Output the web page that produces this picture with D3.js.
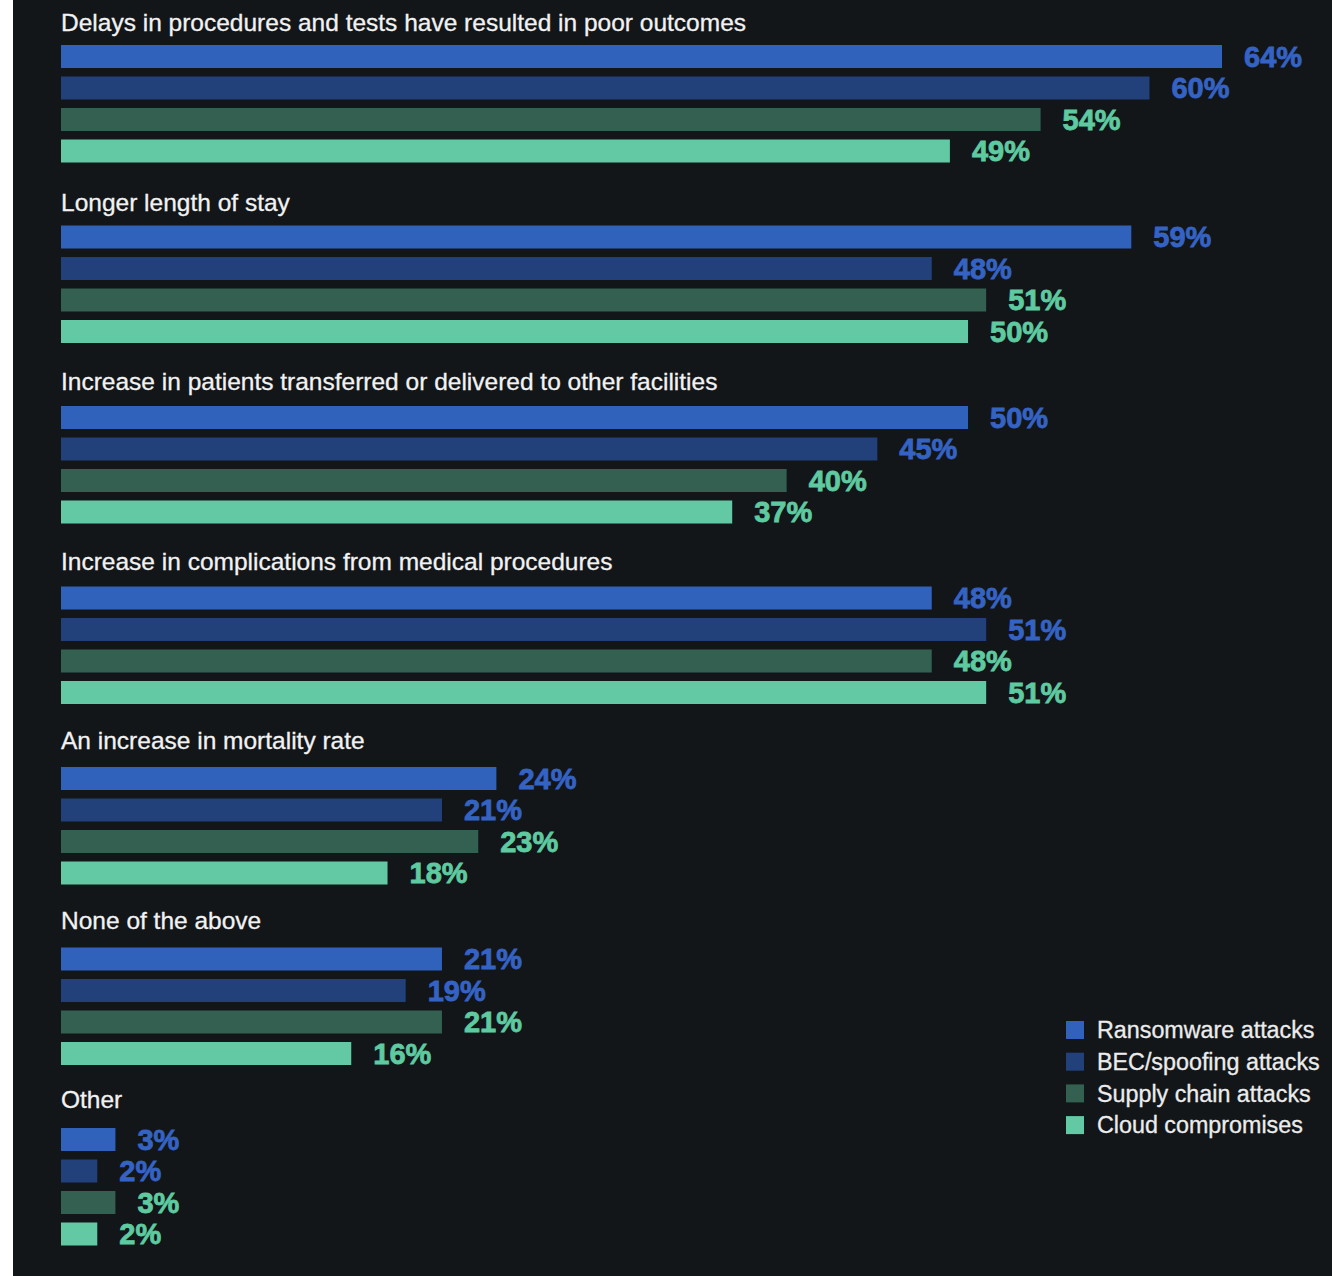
<!DOCTYPE html>
<html>
<head>
<meta charset="utf-8">
<script src="https://cdn.jsdelivr.net/npm/d3@7"></script>
<style>
  html, body { margin: 0; padding: 0; background: #ffffff; }
  svg { display: block; }
</style>
</head>
<body>
<script>
const categories = [
  "Delays in procedures and tests have resulted in poor outcomes",
  "Longer length of stay",
  "Increase in patients transferred or delivered to other facilities",
  "Increase in complications from medical procedures",
  "An increase in mortality rate",
  "None of the above",
  "Other"
];
const seriesNames = ["Ransomware attacks", "BEC/spoofing attacks", "Supply chain attacks", "Cloud compromises"];
const ransomware = [64, 59, 50, 48, 24, 21, 3];
const becSpoofing = [60, 48, 45, 51, 21, 19, 2];
const supplyChain = [54, 51, 40, 48, 23, 21, 3];
const cloudCompromises = [49, 50, 37, 51, 18, 16, 2];
const seriesValues = [ransomware, becSpoofing, supplyChain, cloudCompromises];

const barColors = ["#3162bb", "#22417a", "#336050", "#63c9a4"];
const labelColors = ["#3563c4", "#3563c4", "#5ecaa0", "#5ecaa0"];

const W = 1332, H = 1276;
const svg = d3.select("body").append("svg").attr("width", W).attr("height", H);

svg.append("rect").attr("x", 0).attr("y", 0).attr("width", W).attr("height", H).attr("fill", "#ffffff");
svg.append("rect").attr("x", 13).attr("y", 0).attr("width", W - 13).attr("height", H).attr("fill", "#121619");

const x = d3.scaleLinear().domain([0, 64]).range([61, 1222]);
const yGroup = d3.scaleBand().domain(categories).range([45, 45 + categories.length * 180.5]).padding(0);
const ySeries = d3.scaleBand().domain(seriesNames).range([0, 117.5]).paddingInner(8.5 / 31.5).paddingOuter(0);

const font = "'Liberation Sans', Arial, Helvetica, sans-serif";

const groups = svg.selectAll("g.grp").data(categories).join("g")
  .attr("class", "grp")
  .attr("transform", d => `translate(0,${yGroup(d)})`);

groups.append("text")
  .attr("x", 61)
  .attr("y", (d, i) => -14 - i)
  .attr("fill", "#f2f2f2")
  .attr("stroke", "#f2f2f2")
  .attr("stroke-width", 0.3)
  .attr("font-family", font)
  .attr("font-size", 24.5)
  .text(d => d);

groups.each(function(cat, ci) {
  const g = d3.select(this);
  const rows = seriesNames.map((s, si) => ({ s, si, v: seriesValues[si][ci] }));
  g.selectAll("rect.bar").data(rows).join("rect")
    .attr("class", "bar")
    .attr("x", x(0))
    .attr("y", d => ySeries(d.s))
    .attr("width", d => x(d.v) - x(0))
    .attr("height", ySeries.bandwidth())
    .attr("fill", d => barColors[d.si]);
  g.selectAll("text.val").data(rows).join("text")
    .attr("class", "val")
    .attr("x", d => x(d.v) + 22)
    .attr("y", d => ySeries(d.s) + ySeries.bandwidth() / 2)
    .attr("dy", "0.36em")
    .attr("fill", d => labelColors[d.si])
    .attr("stroke", d => labelColors[d.si])
    .attr("stroke-width", 0.8)
    .attr("font-family", font)
    .attr("font-weight", "bold")
    .attr("font-size", 29)
    .text(d => d.v + "%");
});

const legend = svg.append("g").attr("transform", "translate(1066,1030)");
const lrows = legend.selectAll("g").data(seriesNames).join("g")
  .attr("transform", (d, i) => `translate(0,${i * 31.7})`);
lrows.append("rect").attr("x", 0).attr("y", -9).attr("width", 18).attr("height", 18)
  .attr("fill", (d, i) => barColors[i]);
lrows.append("text").attr("x", 31).attr("y", 0).attr("dy", "0.36em")
  .attr("fill", "#ececec")
  .attr("stroke", "#ececec")
  .attr("stroke-width", 0.3)
  .attr("font-family", font)
  .attr("font-size", 23.3)
  .text(d => d);
</script>
</body>
</html>
